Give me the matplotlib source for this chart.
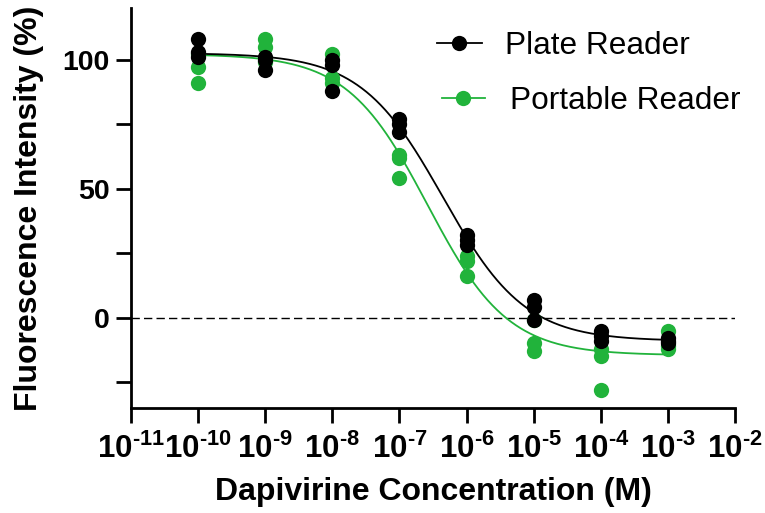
import numpy as np
import matplotlib
matplotlib.use("Agg")
import matplotlib.pyplot as plt
from matplotlib.lines import Line2D

# ---- data ----
conc = [1e-10, 1e-9, 1e-8, 1e-7, 1e-6, 1e-5, 1e-4, 1e-3]
plate_r1 = [108, 101, 100, 77, 32, 7, -5, -8]
plate_r2 = [103, 100, 98, 75, 30, 4, -7, -10]
plate_r3 = [101, 96, 88, 72, 28, -1, -9, -9]
port_r1 = [102, 108, 102, 63, 24, -1, -12, -5]
port_r2 = [97, 105, 93, 62, 22, -10, -15, -12]
port_r3 = [91, 99, 91, 54, 16, -13, -28, -11]
xtick_exps = [-11, -10, -9, -8, -7, -6, -5, -4, -3, -2]
yticks_major = [0, 50, 100]
yticks_minor = [-25, 25, 75]
series_names = ['Plate Reader', 'Portable Reader']

black = "#000000"
green = "#21b33b"

plt.rcParams['font.family'] = ['Liberation Sans', 'DejaVu Sans']
plt.rcParams['mathtext.fontset'] = 'custom'
plt.rcParams['mathtext.rm'] = 'Liberation Sans:bold'
plt.rcParams['mathtext.bf'] = 'Liberation Sans:bold'
plt.rcParams['mathtext.it'] = 'Liberation Sans:bold'


def model(p, x):
    bottom, top, logic50, hill = p
    return bottom + (top - bottom) / (1 + 10 ** ((logic50 - x) * hill))


def fit4pl(x, y, p0):
    p = np.array(p0, dtype=float)
    lam = 1e-3
    for _ in range(500):
        r = y - model(p, x)
        J = np.zeros((len(x), 4))
        for k in range(4):
            dp = np.zeros(4); dp[k] = 1e-6 * max(1, abs(p[k]))
            J[:, k] = (model(p + dp, x) - model(p, x)) / dp[k]
        A = J.T @ J
        g = J.T @ r
        step = np.linalg.solve(A + lam * np.diag(np.diag(A)), g)
        pn = p + step
        if np.sum((y - model(pn, x)) ** 2) < np.sum(r ** 2):
            p = pn; lam *= 0.3
        else:
            lam *= 10
    return p


logc = np.log10(conc)
xs = np.concatenate([logc] * 3)
yp = np.concatenate([plate_r1, plate_r2, plate_r3]).astype(float)
yg = np.concatenate([port_r1, port_r2, port_r3]).astype(float)
pp = fit4pl(xs, yp, [-9, 102, -6.5, -1])
pg = fit4pl(xs, yg, [-13, 101, -6.7, -1])

W, H = 765, 513
fig = plt.figure(figsize=(W / 100, H / 100), dpi=100)
ax = fig.add_axes([131 / W, (H - 408) / H, (735 - 131) / W, (408 - 8) / H])

xx = np.linspace(-10, -3, 400)
ax.plot(10 ** xx, model(pg, xx), color=green, lw=1.3, zorder=2)
ax.plot(10 ** xx, model(pp, xx), color=black, lw=1.3, zorder=3)

for reps in (port_r1, port_r2, port_r3):
    ax.plot(conc, reps, 'o', color=green, ms=11, mec='none', zorder=4)
for reps in (plate_r1, plate_r2, plate_r3):
    ax.plot(conc, reps, 'o', color=black, ms=11, mec='none', zorder=5)

ax.axhline(0, color='black', lw=1.0, ls=(0, (6, 3)), zorder=1)

ax.set_xscale('log')
ax.set_xlim(1e-11, 1e-2)
ax.set_ylim(-35, 120)
ax.set_xticks([10.0 ** e for e in xtick_exps])
ax.set_xticklabels([r'$10^{\text{-%d}}$' % (-e) for e in xtick_exps], fontsize=22.5)
ax.xaxis.set_minor_locator(matplotlib.ticker.NullLocator())
ax.set_yticks(yticks_major)
ax.set_yticklabels([str(v) for v in yticks_major], fontsize=20.5, fontweight='bold')
ax.set_yticks(yticks_minor, minor=True)

for s in ('top', 'right'):
    ax.spines[s].set_visible(False)
for s in ('left', 'bottom'):
    ax.spines[s].set_linewidth(2.0)
ax.tick_params(which='both', direction='out', width=2.0, length=10.5)
ax.tick_params(axis='y', which='major', pad=5)
ax.tick_params(axis='x', which='major', pad=8)

ax.set_xlabel('Dapivirine Concentration (M)', fontsize=23, fontweight='bold', labelpad=9)
ax.set_ylabel('Fluorescence Intensity (%)', fontsize=23, fontweight='bold', labelpad=13)

h1 = Line2D([], [], color=black, lw=1.3, marker='o', ms=11, mec='none')
h2 = Line2D([], [], color=green, lw=1.3, marker='o', ms=11, mec='none')
leg1 = fig.legend([h1], [series_names[0]], loc='center left',
                  bbox_to_anchor=(437 / W, 1 - 46 / H), frameon=False, fontsize=22.8,
                  handlelength=1.42, handletextpad=0.72, borderpad=0, borderaxespad=0)
leg2 = fig.legend([h2], [series_names[1]], loc='center left',
                  bbox_to_anchor=(442 / W, 1 - 101 / H), frameon=False, fontsize=22.8,
                  handlelength=1.35, handletextpad=0.8, borderpad=0, borderaxespad=0)

fig.savefig('out.png', dpi=100)
